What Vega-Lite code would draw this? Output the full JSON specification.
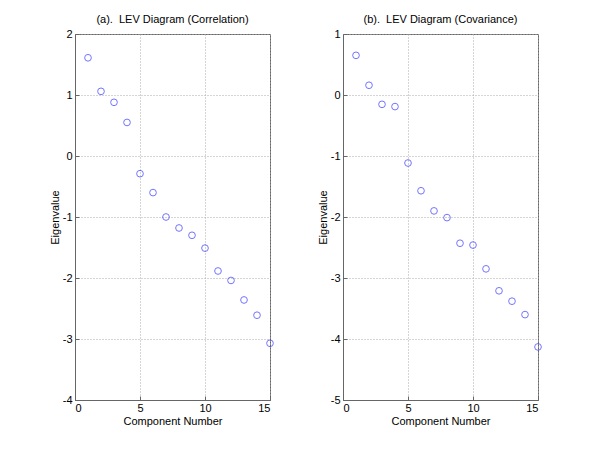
{
  "$schema": "https://vega.github.io/schema/vega-lite/v6.json",
  "background": "white",
  "padding": {"left": 48, "top": 13, "right": 5, "bottom": 5},
  "bounds": "flush",
  "spacing": 73,
  "datasets": {
    "corr": [
      {"component": 1, "eigenvalue": 1.61},
      {"component": 2, "eigenvalue": 1.06},
      {"component": 3, "eigenvalue": 0.88},
      {"component": 4, "eigenvalue": 0.55},
      {"component": 5, "eigenvalue": -0.29},
      {"component": 6, "eigenvalue": -0.6},
      {"component": 7, "eigenvalue": -1.0},
      {"component": 8, "eigenvalue": -1.18},
      {"component": 9, "eigenvalue": -1.3},
      {"component": 10, "eigenvalue": -1.51},
      {"component": 11, "eigenvalue": -1.885},
      {"component": 12, "eigenvalue": -2.04},
      {"component": 13, "eigenvalue": -2.36},
      {"component": 14, "eigenvalue": -2.61},
      {"component": 15, "eigenvalue": -3.07}
    ],
    "cov": [
      {"component": 1, "eigenvalue": 0.65},
      {"component": 2, "eigenvalue": 0.16},
      {"component": 3, "eigenvalue": -0.153},
      {"component": 4, "eigenvalue": -0.19},
      {"component": 5, "eigenvalue": -1.115},
      {"component": 6, "eigenvalue": -1.57},
      {"component": 7, "eigenvalue": -1.9},
      {"component": 8, "eigenvalue": -2.01},
      {"component": 9, "eigenvalue": -2.43},
      {"component": 10, "eigenvalue": -2.46},
      {"component": 11, "eigenvalue": -2.85},
      {"component": 12, "eigenvalue": -3.21},
      {"component": 13, "eigenvalue": -3.38},
      {"component": 14, "eigenvalue": -3.6},
      {"component": 15, "eigenvalue": -4.13}
    ]
  },
  "config": {
    "font": "Liberation Sans",
    "view": {"stroke": "#666666", "strokeWidth": 1},
    "title": {"fontSize": 11, "fontWeight": "normal", "color": "black", "offset": 3},
    "axis": {
      "labelFont": "Liberation Sans",
      "titleFont": "Liberation Sans",
      "labelFontSize": 11,
      "titleFontSize": 11,
      "titleFontWeight": "normal",
      "labelColor": "black",
      "titleColor": "black",
      "domainColor": "#666666",
      "tickColor": "#666666",
      "tickSize": -4,
      "gridColor": "#aaaaaa",
      "gridDash": [1, 2],
      "gridWidth": 1,
      "labelExpr": "'' + datum.value"
    }
  },
  "hconcat": [
    {
      "title": "(a).\u00a0 LEV Diagram (Correlation)",
      "width": 195,
      "height": 366,
      "data": {"name": "corr"},
      "mark": {"type": "point", "shape": "circle", "filled": false, "color": "#3a3aff", "size": 45, "strokeWidth": 1},
      "encoding": {
        "x": {"field": "component", "type": "quantitative", "title": "Component Number",
              "scale": {"domain": [0, 15], "nice": false, "zero": false},
              "axis": {"values": [0, 5, 10, 15], "labelPadding": 6, "titlePadding": 2}},
        "y": {"field": "eigenvalue", "type": "quantitative", "title": "Eigenvalue",
              "scale": {"domain": [-4, 2], "nice": false, "zero": false},
              "axis": {"values": [-4, -3, -2, -1, 0, 1, 2], "labelPadding": 7, "titlePadding": 2}}
      }
    },
    {
      "title": "(b).\u00a0 LEV Diagram (Covariance)",
      "width": 195,
      "height": 366,
      "data": {"name": "cov"},
      "mark": {"type": "point", "shape": "circle", "filled": false, "color": "#3a3aff", "size": 45, "strokeWidth": 1},
      "encoding": {
        "x": {"field": "component", "type": "quantitative", "title": "Component Number",
              "scale": {"domain": [0, 15], "nice": false, "zero": false},
              "axis": {"values": [0, 5, 10, 15], "labelPadding": 6, "titlePadding": 2}},
        "y": {"field": "eigenvalue", "type": "quantitative", "title": "Eigenvalue",
              "scale": {"domain": [-5, 1], "nice": false, "zero": false},
              "axis": {"values": [-5, -4, -3, -2, -1, 0, 1], "labelPadding": 7, "titlePadding": 2}}
      }
    }
  ]
}
